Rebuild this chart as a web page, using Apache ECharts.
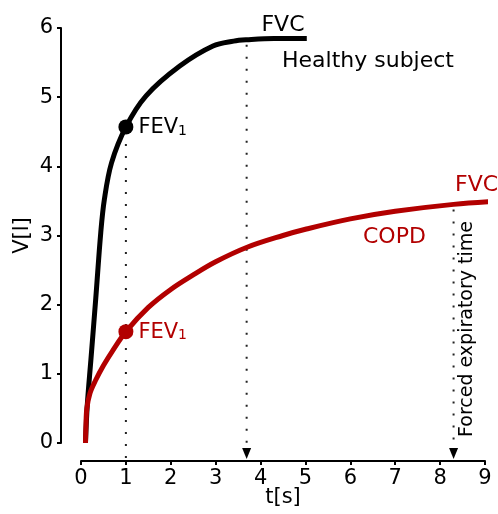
<!DOCTYPE html>
<html>
<head>
<meta charset="utf-8">
<script src="https://cdn.jsdelivr.net/npm/echarts@6/dist/echarts.min.js"></script>
<style>
html,body{margin:0;padding:0;background:#fff;}
#chart{width:498px;height:514px;}
</style>
</head>
<body>
<div id="chart"></div>
<script>
// Volume-time spirometry curves (t in s, V in l)
var healthyCurve = [[0.1,0],[0.14,0.55],[0.22,1.2],[0.33,2.1],[0.44,3.04],[0.52,3.52],[0.68,4.05],[1,4.57],[1.45,5.02],[2.2,5.45],[2.94,5.74],[3.4,5.81],[3.69,5.83],[4.3,5.85],[5.03,5.85]];
var copdCurve = [[0.1,0],[0.11,0.25],[0.13,0.5],[0.2,0.72],[0.32,0.9],[0.5,1.12],[0.7,1.33],[1,1.61],[1.5,1.96],[2,2.22],[2.5,2.43],[3,2.62],[3.7,2.83],[4.5,3.0],[5,3.09],[6,3.24],[7,3.35],[8.3,3.45],[9.35,3.5]];
var healthyFEV1 = [[1,4.57]];
var copdFEV1 = [[1,1.61]];
// dotted drop lines: [t, V, hasArrow]
var dropLines = [[1,4.57,0],[3.69,5.83,1],[8.3,3.45,1]];
var xTicks = [0,1,2,3,4,5,6,7,8,9];
var yTicks = [0,1,2,3,4,5,6];

var FONT = 'DejaVu Sans';
var RED = '#b20000';
var chart = echarts.init(document.getElementById('chart'), null, {renderer:'canvas'});

function fevLabel(color){
  return {
    show:true, position:'right', distance:5,
    formatter:'{a|FEV}{b|1}',
    rich:{
      a:{fontFamily:FONT,fontSize:21,color:color,lineHeight:22,verticalAlign:'bottom'},
      b:{fontFamily:FONT,fontSize:14,color:color,lineHeight:10,verticalAlign:'bottom'}
    }
  };
}

var axisCommon = {
  axisLine:{show:true,onZero:false,lineStyle:{color:'#000',width:2}},
  axisTick:{show:true,length:4,lineStyle:{color:'#000',width:2}},
  splitLine:{show:false},
  nameMoveOverlap:false,
  nameTextStyle:{fontFamily:FONT,fontSize:21,color:'#000'}
};

var option = {
  animation:false,
  backgroundColor:'#fff',
  grid:{left:81,right:13,top:28,bottom:71,containLabel:false},
  xAxis:Object.assign({
    type:'value',min:xTicks[0],max:xTicks[xTicks.length-1],interval:1,offset:18,
    name:'t[s]',nameLocation:'middle',nameGap:26,
    axisLabel:{fontFamily:FONT,fontSize:21,color:'#000',margin:7}
  },axisCommon),
  yAxis:Object.assign({
    type:'value',min:yTicks[0],max:yTicks[yTicks.length-1],interval:1,offset:20,
    name:'V[l]',nameLocation:'middle',nameGap:28,
    axisLabel:{fontFamily:FONT,fontSize:21,color:'#000',margin:8}
  },axisCommon),
  series:[
    {
      type:'custom',
      z:1,
      clip:false,
      data:dropLines,
      renderItem:function(params,api){
        var t = api.value(0), v = api.value(1), arrow = api.value(2);
        var p = api.coord([t,v]);
        var base = api.coord([t,0]);
        var axisY = base[1] + 17;
        var children = [{
          type:'line',
          shape:{x1:p[0],y1:p[1]+5,x2:p[0],y2:arrow? axisY-10 : axisY-2},
          style:{stroke:'#222',lineWidth:2,lineDash:[2,10]}
        }];
        if(arrow){
          children.push({
            type:'polygon',
            shape:{points:[[p[0]-4.5,axisY-12],[p[0]+4.5,axisY-12],[p[0],axisY-1]]},
            style:{fill:'#000'}
          });
        }
        return {type:'group',children:children};
      }
    },
    {
      type:'line',name:'Healthy subject',data:healthyCurve,
      smooth:0.35,showSymbol:false,symbol:'none',clip:false,z:3,
      lineStyle:{color:'#000',width:5,cap:'butt'}
    },
    {
      type:'line',name:'COPD',data:copdCurve,
      smooth:0.35,showSymbol:false,symbol:'none',clip:false,z:3,
      lineStyle:{color:RED,width:5,cap:'butt'}
    },
    {
      type:'scatter',data:healthyFEV1,symbolSize:15,z:4,
      itemStyle:{color:'#000',opacity:1},label:fevLabel('#000')
    },
    {
      type:'scatter',data:copdFEV1,symbolSize:15,z:4,
      itemStyle:{color:RED,opacity:1},label:fevLabel(RED)
    }
  ],
  graphic:[
    {type:'text',x:283,y:25,style:{text:'FVC',fontFamily:FONT,fontSize:22,fill:'#000',align:'center',verticalAlign:'middle'}},
    {type:'text',x:282,y:61,style:{text:'Healthy subject',fontFamily:FONT,fontSize:22,fill:'#000',align:'left',verticalAlign:'middle'}},
    {type:'text',x:455,y:185,style:{text:'FVC',fontFamily:FONT,fontSize:22,fill:RED,align:'left',verticalAlign:'middle'}},
    {type:'text',x:363,y:237,style:{text:'COPD',fontFamily:FONT,fontSize:22,fill:RED,align:'left',verticalAlign:'middle'}},
    {type:'text',x:467,y:437,rotation:Math.PI/2,style:{text:'Forced expiratory time',fontFamily:FONT,fontSize:19,fill:'#000',align:'left',verticalAlign:'middle'}}
  ]
};
chart.setOption(option);
</script>
</body>
</html>
